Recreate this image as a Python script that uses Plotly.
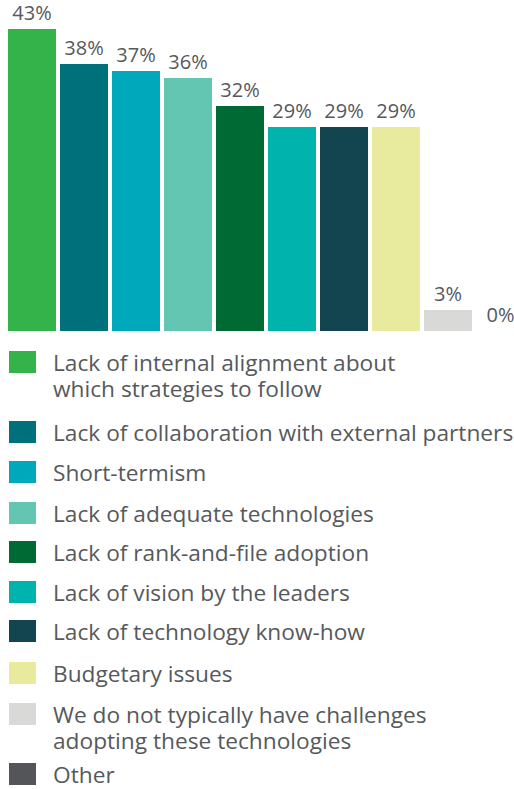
import plotly.graph_objects as go

# survey data
categories = [
    "Lack of internal alignment about<br>which strategies to follow",
    "Lack of collaboration with external partners",
    "Short-termism",
    "Lack of adequate technologies",
    "Lack of rank-and-file adoption",
    "Lack of vision by the leaders",
    "Lack of technology know-how",
    "Budgetary issues",
    "We do not typically have challenges<br>adopting these technologies",
    "Other",
]
values = [43, 38, 37, 36, 32, 29, 29, 29, 3, 0]
colors = ["#33b34a", "#00707a", "#00a8bc", "#62c6b2", "#006a35",
          "#00b3ad", "#124550", "#e8eb9e", "#d9dad8", "#545559"]

W, H = 514, 789
FONT = "Open Sans"
TEXT_COLOR = "#56595c"

fig = go.Figure()

fig.add_trace(go.Bar(
    x=list(range(len(values))),
    y=values,
    marker=dict(color=colors, line=dict(width=0)),
    width=0.92,
    texttemplate="%{y}%",
    textposition="outside",
    textfont=dict(family=FONT, size=20, color=TEXT_COLOR),
    cliponaxis=False,
    showlegend=False,
    hoverinfo="skip",
))

# hand-made legend: square + label, rows centred at these pixel heights
row_centres = [362, 432, 472, 513, 552, 592, 631, 673, 714, 774]
sq_w, sq_h, sq_x = 27, 22, 9
text_x = 51
line_gap = 26

def py(p):
    return 1 - p / H

for c, col, yc in zip(categories, colors, row_centres):
    fig.add_shape(
        type="rect", xref="paper", yref="paper",
        x0=sq_x / W, x1=(sq_x + sq_w) / W,
        y0=py(yc + sq_h / 2), y1=py(yc - sq_h / 2),
        fillcolor=col, line=dict(width=0),
    )
    for k, line in enumerate(c.split("<br>")):
        fig.add_annotation(
            x=text_x / W, y=py(yc + k * line_gap), xref="paper", yref="paper",
            xanchor="left", yanchor="middle", showarrow=False,
            text=line, font=dict(family=FONT, size=22.7, color=TEXT_COLOR),
        )

bar_bottom = 331
pitch = 52.05
fig.update_layout(
    width=W, height=H,
    margin=dict(l=0, r=0, t=0, b=0),
    paper_bgcolor="white", plot_bgcolor="white",
    xaxis=dict(domain=[6 / W, 1], range=[-0.5, -0.5 + 508 / pitch], visible=False),
    yaxis=dict(domain=[1 - bar_bottom / H, 1], range=[0, bar_bottom / 7.02], visible=False),
    bargap=0,
)

fig.write_html("out.html", config={"displayModeBar": False},
               post_script="document.body.style.margin='0';")
